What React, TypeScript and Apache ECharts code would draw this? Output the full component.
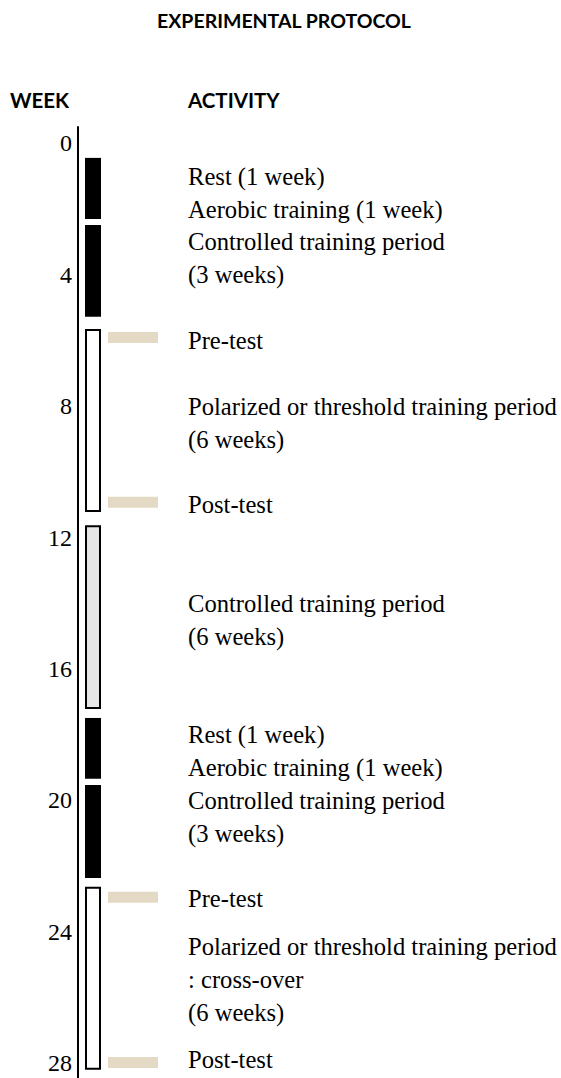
import React, { useEffect, useRef } from "react";
import * as echarts from "echarts";

// Week tick labels on the timeline axis
const weekTicks = [0, 4, 8, 12, 16, 20, 24, 28];

// Periods drawn on the timeline: [startWeek, endWeek, kind]
const periodStarts = [0.44, 2.48, 5.65, 11.62, 17.49, 19.53, 22.63];
const periodEnds = [2.3, 5.28, 11.22, 17.22, 19.34, 22.36, 28.2];
const periodKinds = ["black", "black", "white", "grey", "black", "black", "white"];

// Test markers (week position)
const testWeeks = [5.91, 10.92, 22.95, 27.98];

// Activity descriptions: text line and week where it sits
const activityLines = [
  "Rest (1 week)",
  "Aerobic training (1 week)",
  "Controlled training period",
  "(3 weeks)",
  "Pre-test",
  "Polarized or threshold training period",
  "(6 weeks)",
  "Post-test",
  "Controlled training period",
  "(6 weeks)",
  "Rest (1 week)",
  "Aerobic training (1 week)",
  "Controlled training period",
  "(3 weeks)",
  "Pre-test",
  "Polarized or threshold training period",
  ": cross-over",
  "(6 weeks)",
  "Post-test",
];
const activityWeeks = [1, 2, 3, 4, 6, 8, 9, 11, 14, 15, 18, 19, 20, 21, 23, 24.45, 25.45, 26.45, 27.9];

const SERIF = "Liberation Serif";
const SANS = "Lato";

export default function App() {
  const ref = useRef<HTMLDivElement>(null);

  useEffect(() => {
    if (!ref.current) return;
    const chart = echarts.init(ref.current, undefined, { renderer: "svg" });

    const periodData = periodStarts.map((s, i) => [s, periodEnds[i], periodKinds[i]]);
    const testData = testWeeks.map((w) => [w]);
    const textData = activityWeeks.map((w, i) => [w, activityLines[i]]);

    chart.setOption({
      animation: false,
      backgroundColor: "#ffffff",
      graphic: [
        {
          type: "text",
          x: 284,
          y: 20,
          style: {
            text: "EXPERIMENTAL PROTOCOL",
            fontFamily: SANS,
            fontWeight: "bold",
            fontSize: 19.5,
            fill: "#000",
            align: "center",
            verticalAlign: "middle",
          },
        },
        {
          type: "text",
          x: 10,
          y: 100,
          style: {
            text: "WEEK",
            fontFamily: SANS,
            fontWeight: "bold",
            fontSize: 20.5,
            fill: "#000",
            align: "left",
            verticalAlign: "middle",
          },
        },
        {
          type: "text",
          x: 188,
          y: 100,
          style: {
            text: "ACTIVITY",
            fontFamily: SANS,
            fontWeight: "bold",
            fontSize: 20.5,
            fill: "#000",
            align: "left",
            verticalAlign: "middle",
          },
        },
      ],
      grid: { left: 78, right: 0, top: 127, height: 951 },
      xAxis: { type: "value", min: 0, max: 1, show: false },
      yAxis: {
        type: "value",
        inverse: true,
        min: -0.5,
        max: 28.45,
        axisLine: { show: true, lineStyle: { color: "#000", width: 2 } },
        axisTick: { show: false },
        splitLine: { show: false },
        axisLabel: {
          customValues: weekTicks,
          color: "#000",
          fontFamily: SERIF,
          fontSize: 24,
          margin: 6,
        },
      },
      series: [
        {
          type: "custom",
          name: "periods",
          data: periodData,
          renderItem: (params: any, api: any) => {
            const s = api.value(0);
            const e = api.value(1);
            const kind = periodKinds[params.dataIndex];
            const p0 = api.coord([0, s]);
            const p1 = api.coord([0, e]);
            const x = p0[0] + 7;
            const w = 16;
            if (kind === "black") {
              return {
                type: "rect",
                shape: { x, y: p0[1], width: w, height: p1[1] - p0[1] },
                style: { fill: "#000" },
              };
            }
            return {
              type: "rect",
              shape: { x: x + 1, y: p0[1] + 1, width: w - 2, height: p1[1] - p0[1] - 2 },
              style: { fill: kind === "grey" ? "#e6e6e6" : "#ffffff", stroke: "#000", lineWidth: 2 },
            };
          },
        },
        {
          type: "custom",
          name: "tests",
          data: testData,
          renderItem: (params: any, api: any) => {
            const p = api.coord([0, api.value(0)]);
            return {
              type: "rect",
              shape: { x: p[0] + 30, y: p[1] - 5.5, width: 50, height: 11 },
              style: { fill: "#e3d9c5" },
            };
          },
        },
        {
          type: "custom",
          name: "activities",
          data: textData,
          renderItem: (params: any, api: any) => {
            const p = api.coord([0, api.value(0)]);
            return {
              type: "text",
              x: 188,
              y: p[1],
              style: {
                text: activityLines[params.dataIndex],
                fontFamily: SERIF,
                fontSize: 24.6,
                fill: "#000",
                align: "left",
                verticalAlign: "middle",
              },
            };
          },
        },
      ],
    });

    return () => chart.dispose();
  }, []);

  return (
    <div
      ref={ref}
      style={{ position: "fixed", left: 0, top: 0, width: 561, height: 1078, background: "#fff" }}
    />
  );
}
